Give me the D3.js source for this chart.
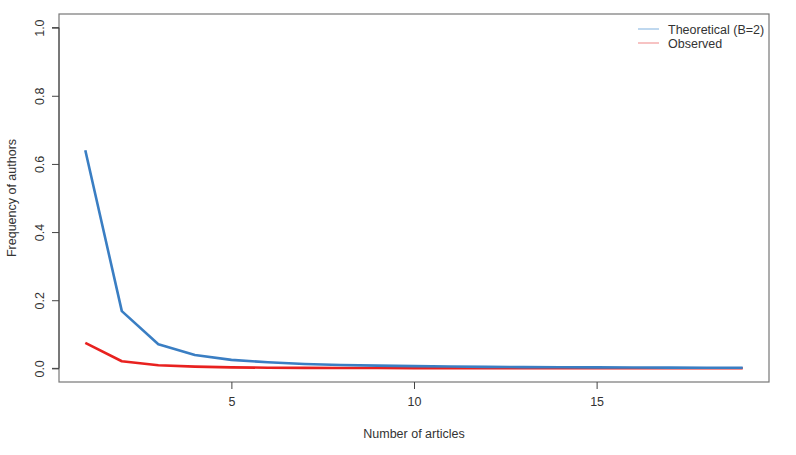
<!DOCTYPE html>
<html>
<head>
<meta charset="utf-8">
<script src="https://cdn.jsdelivr.net/npm/d3@7"></script>
<style>
  body { margin: 0; background: #fff; }
  svg { display: block; font-family: "Liberation Sans", Arial, sans-serif; }
</style>
</head>
<body>
<svg id="chart" width="796" height="455"></svg>
<script>
// articles per author (x) and share of authors
const articles = [1, 2, 3, 4, 5, 6, 7, 8, 9, 10, 11, 12, 13, 14, 15, 16, 17, 18, 19];
const theoretical = [0.640, 0.168, 0.071, 0.039, 0.025, 0.018, 0.013, 0.010, 0.008, 0.0065,
                     0.0053, 0.0045, 0.0038, 0.0033, 0.0028, 0.0025, 0.0022, 0.002, 0.0018];
const observed = [0.075, 0.021, 0.009, 0.005, 0.003, 0.002, 0.0015, 0.0012, 0.001, 0.0008,
                  0.0007, 0.0006, 0.0005, 0.0005, 0.0004, 0.0004, 0.0003, 0.0003, 0.0003];
const xTicks = [5, 10, 15];
const yTicks = [0, 0.2, 0.4, 0.6, 0.8, 1.0];
const legendLabels = ['Theoretical (B=2)', 'Observed'];

const FS = 12.5;
const box = { left: 59, top: 14, right: 769, bottom: 382 };
const svg = d3.select('#chart');

// R-style 4% padding on both axes
const x = d3.scaleLinear().domain([1 - 0.72, 19 + 0.72]).range([box.left, box.right]);
const y = d3.scaleLinear().domain([-0.04, 1.04]).range([box.bottom, box.top]);

svg.append('rect')
  .attr('x', box.left).attr('y', box.top)
  .attr('width', box.right - box.left).attr('height', box.bottom - box.top)
  .attr('fill', 'none').attr('stroke', '#777').attr('stroke-width', 1.2);

const yAxis = svg.append('g')
  .attr('transform', `translate(${box.left},0)`)
  .call(d3.axisLeft(y).tickValues(yTicks).tickFormat(d3.format('.1f')).tickSize(7));
yAxis.select('.domain').attr('d', `M-7,${y(0)}H0V${y(1)}H-7`).attr('stroke', '#444');
yAxis.selectAll('line').attr('stroke', '#444');
// labels rotated like R's las=0, inside each tick group
yAxis.selectAll('.tick text')
  .attr('x', 0).attr('y', 0).attr('dy', null)
  .attr('transform', 'translate(-15,0) rotate(-90)')
  .attr('text-anchor', 'middle')
  .attr('font-size', FS).attr('fill', '#333');

const xAxis = svg.append('g')
  .attr('transform', `translate(0,${box.bottom})`)
  .call(d3.axisBottom(x).tickValues(xTicks).tickSize(7).tickPadding(8));
xAxis.select('.domain').remove();
xAxis.selectAll('line').attr('stroke', '#444');
xAxis.selectAll('text').attr('font-size', FS).attr('fill', '#333');

svg.append('text')
  .attr('x', (box.left + box.right) / 2).attr('y', 438)
  .attr('text-anchor', 'middle').attr('font-size', FS).attr('fill', '#333')
  .text('Number of articles');

svg.append('text')
  .attr('transform', `translate(16,${(box.top + box.bottom) / 2}) rotate(-90)`)
  .attr('text-anchor', 'middle').attr('font-size', FS).attr('fill', '#333')
  .text('Frequency of authors');

const line = d3.line().x((d, i) => x(articles[i])).y(d => y(d));

svg.append('path').datum(observed)
  .attr('d', line).attr('fill', 'none')
  .attr('stroke', '#e8211f').attr('stroke-width', 2.6).attr('stroke-linejoin', 'round');
svg.append('path').datum(theoretical)
  .attr('d', line).attr('fill', 'none')
  .attr('stroke', '#3a7ec3').attr('stroke-width', 2.6).attr('stroke-linejoin', 'round');

// legend (thin pale keys as in the original)
const legendColors = ['#9cc3e6', '#f3a3a3'];
const lg = svg.append('g').attr('transform', 'translate(638,29)');
legendLabels.forEach((t, i) => {
  lg.append('line').attr('x1', 0).attr('x2', 21)
    .attr('y1', i * 14).attr('y2', i * 14)
    .attr('stroke', legendColors[i]).attr('stroke-width', 1.3);
  lg.append('text').attr('x', 30).attr('y', i * 14 + 4.5)
    .attr('font-size', FS).attr('fill', '#333').text(t);
});
</script>
</body>
</html>
